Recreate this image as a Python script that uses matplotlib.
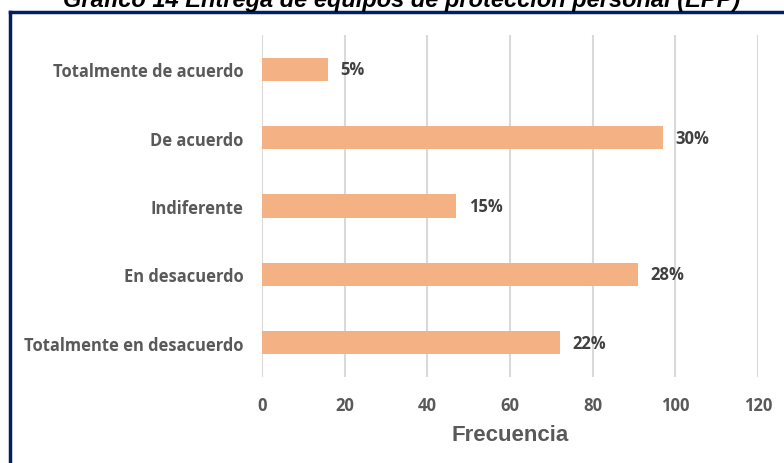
import matplotlib.pyplot as plt
from matplotlib.lines import Line2D

categorias = ['Totalmente en desacuerdo', 'En desacuerdo', 'Indiferente',
              'De acuerdo', 'Totalmente de acuerdo']
frecuencia = [72, 91, 47, 97, 16]
porcentajes = ['22%', '28%', '15%', '30%', '5%']

W, H = 784, 464
fig = plt.figure(figsize=(W / 100, H / 100), dpi=100)
ax = fig.add_axes([262 / W, 1 - 378 / H, (758 - 262) / W, (378 - 36) / H])

pos = range(len(categorias))
ax.barh(pos, frecuencia, height=0.34, color='#F4B183', zorder=3)

for i, (v, p) in enumerate(zip(frecuencia, porcentajes)):
    ax.annotate(p, (v, i), xytext=(9, 0), textcoords='offset points',
                va='center', ha='left', fontsize=12, fontweight='bold',
                color='#404040', family='Open Sans')

ax.set_xlim(0, 120)
ax.set_ylim(-0.5, 4.5)
ax.set_xticks(range(0, 121, 20))
ax.set_yticks(list(pos))
ax.set_yticklabels(categorias)
ax.grid(axis='x', color='#D9D9D9', linewidth=1.5, zorder=0)
ax.tick_params(length=0, colors='#595959')
ax.tick_params(axis='y', pad=13.5)
ax.tick_params(axis='x', pad=14)
for lab in ax.get_yticklabels():
    lab.set_fontweight('bold')
    lab.set_fontsize(11.9)
    lab.set_family('Open Sans')
for lab in ax.get_xticklabels():
    lab.set_fontweight('bold')
    lab.set_fontsize(12)
    lab.set_family('Open Sans')
for s in ax.spines.values():
    s.set_visible(False)

# título del eje x
fig.text(510 / W, 1 - 441 / H, 'Frecuencia', ha='center', va='baseline',
         fontsize=16, fontweight='bold', color='#595959', family='Liberation Sans')

# marco del gráfico
fig.add_artist(Line2D([9.5 / W, 9.5 / W], [0, 1 - 12.5 / H], color='#002060', lw=2.5))
fig.add_artist(Line2D([9.5 / W, 1], [1 - 12.5 / H, 1 - 12.5 / H], color='#002060', lw=2.5))

fig.text(402 / W, 1 - 7 / H, 'Gráfico 14 Entrega de equipos de protección personal (EPP)',
         ha='center', va='baseline', fontsize=17, fontweight='bold', style='italic',
         family='Liberation Sans', color='black')

fig.savefig('out.png', dpi=100)
